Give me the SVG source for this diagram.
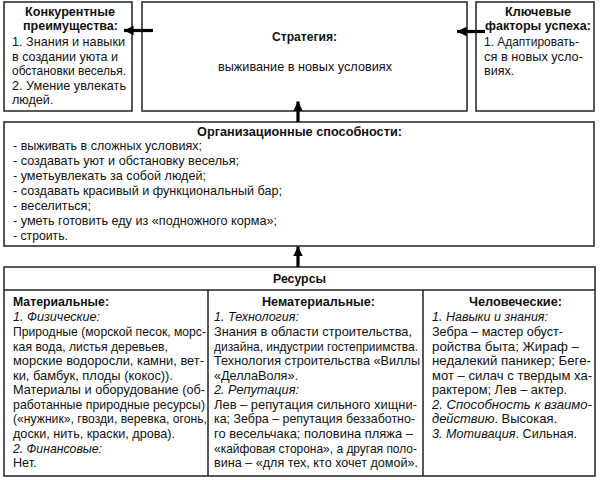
<svg xmlns="http://www.w3.org/2000/svg" width="600" height="480" viewBox="0 0 600 480">
<style>
.box{fill:#fff;stroke:#222;stroke-width:1.5}
.ln{stroke:#222;stroke-width:1.5}
text{font-family:"Liberation Sans",Arial,sans-serif;font-size:12.6px;fill:#111}
.b{font-weight:bold}
.c{text-anchor:middle}
.i{font-style:italic}
.shaft{stroke:#000;stroke-width:3.2;fill:none}
</style>
<defs>
<marker id="ah" viewBox="0 0 10 10" refX="10" refY="5" markerWidth="3" markerHeight="3.4" markerUnits="strokeWidth" orient="auto">
<path d="M0,0 L10,5 L0,10 Z" fill="#000"/>
</marker>
</defs>
<rect width="600" height="480" fill="#fff"/>

<g id="konk">
<rect class="box" x="4" y="2" width="128" height="109"/>
<text class="b c" x="70" y="16" textLength="90" lengthAdjust="spacingAndGlyphs">Конкурентные</text>
<text class="b c" x="70.5" y="30" textLength="95" lengthAdjust="spacingAndGlyphs">преимущества:</text>
<text x="12" y="46" textLength="113" lengthAdjust="spacingAndGlyphs">1. Знания и навыки</text>
<text x="12" y="60.5" textLength="106" lengthAdjust="spacingAndGlyphs">в создании уюта и</text>
<text x="12" y="75" textLength="114" lengthAdjust="spacingAndGlyphs">обстановки веселья.</text>
<text x="12" y="89.5" textLength="114" lengthAdjust="spacingAndGlyphs">2. Умение увлекать</text>
<text x="12" y="104">людей.</text>
</g>

<g id="strategy">
<rect class="box" x="142" y="2" width="325" height="109"/>
<text class="b c" x="304.5" y="41" textLength="65" lengthAdjust="spacingAndGlyphs">Стратегия:</text>
<text class="c" x="305" y="71" textLength="174" lengthAdjust="spacingAndGlyphs">выживание в новых условиях</text>
</g>

<g id="kfu">
<rect class="box" x="476" y="2" width="118" height="109"/>
<text class="b c" x="538" y="16" textLength="66" lengthAdjust="spacingAndGlyphs">Ключевые</text>
<text class="b c" x="538" y="30" textLength="106" lengthAdjust="spacingAndGlyphs">факторы успеха:</text>
<text x="484" y="46" textLength="95" lengthAdjust="spacingAndGlyphs">1. Адаптировать-</text>
<text x="484" y="60.5" textLength="99" lengthAdjust="spacingAndGlyphs">ся в новых усло-</text>
<text x="484" y="75">виях.</text>
</g>

<g id="org">
<rect class="box" x="4" y="122" width="590" height="124"/>
<text class="b c" x="299.5" y="135.5" textLength="205" lengthAdjust="spacingAndGlyphs">Организационные способности:</text>
<text x="13" y="149.5" textLength="189" lengthAdjust="spacingAndGlyphs">- выживать в сложных условиях;</text>
<text x="13" y="164.5" textLength="226" lengthAdjust="spacingAndGlyphs">- создавать уют и обстановку веселья;</text>
<text x="13" y="179.5" textLength="193" lengthAdjust="spacingAndGlyphs">- уметьувлекать за собой людей;</text>
<text x="13" y="194.5" textLength="269" lengthAdjust="spacingAndGlyphs">- создавать красивый и функциональный бар;</text>
<text x="13" y="209.5" textLength="78" lengthAdjust="spacingAndGlyphs">- веселиться;</text>
<text x="13" y="224.5" textLength="264" lengthAdjust="spacingAndGlyphs">- уметь готовить еду из «подножного корма»;</text>
<text x="13" y="239.5" textLength="55" lengthAdjust="spacingAndGlyphs">- строить.</text>
</g>

<g id="resources">
<rect class="box" x="4" y="267" width="591" height="209"/>
<line class="ln" x1="4" y1="290" x2="595" y2="290"/>
<line class="ln" x1="208" y1="290" x2="208" y2="476"/>
<line class="ln" x1="423" y1="290" x2="423" y2="476"/>
<text class="b c" x="299.5" y="282.5" textLength="53" lengthAdjust="spacingAndGlyphs">Ресурсы</text>

<text class="b" x="13" y="306" textLength="96" lengthAdjust="spacingAndGlyphs">Материальные:</text>
<text class="i" x="13" y="321" textLength="87" lengthAdjust="spacingAndGlyphs">1. Физические:</text>
<text x="13" y="336" textLength="193" lengthAdjust="spacingAndGlyphs">Природные (морской песок, морс-</text>
<text x="13" y="350.5" textLength="155" lengthAdjust="spacingAndGlyphs">кая вода, листья деревьев,</text>
<text x="13" y="365" textLength="191" lengthAdjust="spacingAndGlyphs">морские водоросли, камни, вет-</text>
<text x="13" y="379.5" textLength="160" lengthAdjust="spacingAndGlyphs">ки, бамбук, плоды (кокос)).</text>
<text x="13" y="394" textLength="192" lengthAdjust="spacingAndGlyphs">Материалы и оборудование (об-</text>
<text x="13" y="408.5" textLength="192" lengthAdjust="spacingAndGlyphs">работанные природные ресурсы)</text>
<text x="13" y="423" textLength="194" lengthAdjust="spacingAndGlyphs">(«нужник», гвозди, веревка, огонь,</text>
<text x="13" y="438" textLength="162" lengthAdjust="spacingAndGlyphs">доски, нить, краски, дрова).</text>
<text class="i" x="13" y="452.5" textLength="89" lengthAdjust="spacingAndGlyphs">2. Финансовые:</text>
<text x="13" y="467">Нет.</text>

<text class="b c" x="318.5" y="306" textLength="113" lengthAdjust="spacingAndGlyphs">Нематериальные:</text>
<text class="i" x="214" y="321" textLength="85" lengthAdjust="spacingAndGlyphs">1. Технология:</text>
<text x="214" y="336" textLength="198" lengthAdjust="spacingAndGlyphs">Знания в области строительства,</text>
<text x="214" y="350.5" textLength="204" lengthAdjust="spacingAndGlyphs">дизайна, индустрии гостеприимства.</text>
<text x="214" y="365" textLength="206" lengthAdjust="spacingAndGlyphs">Технология строительства «Виллы</text>
<text x="214" y="379.5" textLength="84" lengthAdjust="spacingAndGlyphs">«ДеллаВоля».</text>
<text class="i" x="214" y="394" textLength="85" lengthAdjust="spacingAndGlyphs">2. Репутация:</text>
<text x="214" y="408.5" textLength="203" lengthAdjust="spacingAndGlyphs">Лев – репутация сильного хищни-</text>
<text x="214" y="423" textLength="201" lengthAdjust="spacingAndGlyphs">ка; Зебра – репутация беззаботно-</text>
<text x="214" y="438" textLength="199" lengthAdjust="spacingAndGlyphs">го весельчака; половина пляжа –</text>
<text x="214" y="452.5" textLength="203" lengthAdjust="spacingAndGlyphs">«кайфовая сторона», а другая поло-</text>
<text x="214" y="467" textLength="204" lengthAdjust="spacingAndGlyphs">вина – «для тех, кто хочет домой».</text>

<text class="b c" x="515.5" y="306" textLength="93" lengthAdjust="spacingAndGlyphs">Человеческие:</text>
<text class="i" x="432" y="321" textLength="116" lengthAdjust="spacingAndGlyphs">1. Навыки и знания:</text>
<text x="432" y="336" textLength="131" lengthAdjust="spacingAndGlyphs">Зебра – мастер обуст-</text>
<text x="432" y="350.5" textLength="147" lengthAdjust="spacingAndGlyphs">ройства быта; Жираф –</text>
<text x="432" y="365" textLength="159" lengthAdjust="spacingAndGlyphs">недалекий паникер; Беге-</text>
<text x="432" y="379.5" textLength="160" lengthAdjust="spacingAndGlyphs">мот – силач с твердым ха-</text>
<text x="432" y="394" textLength="135" lengthAdjust="spacingAndGlyphs">рактером; Лев – актер.</text>
<text class="i" x="432" y="408.5" textLength="160" lengthAdjust="spacingAndGlyphs">2. Способность к взаимо-</text>
<text x="432" y="423" textLength="125" lengthAdjust="spacingAndGlyphs"><tspan class="i">действию</tspan>. Высокая.</text>
<text x="432" y="438" textLength="145" lengthAdjust="spacingAndGlyphs"><tspan class="i">3. Мотивация</tspan>. Сильная.</text>
</g>

<g id="connectors">
<line class="shaft" x1="153" y1="30.5" x2="124" y2="30.5" marker-end="url(#ah)"/>
<line class="shaft" x1="485" y1="31.5" x2="457" y2="31.5" marker-end="url(#ah)"/>
<line class="shaft" x1="298" y1="122" x2="298" y2="101.5" marker-end="url(#ah)"/>
<line class="shaft" x1="298" y1="267" x2="298" y2="246.5" marker-end="url(#ah)"/>
</g>
</svg>
